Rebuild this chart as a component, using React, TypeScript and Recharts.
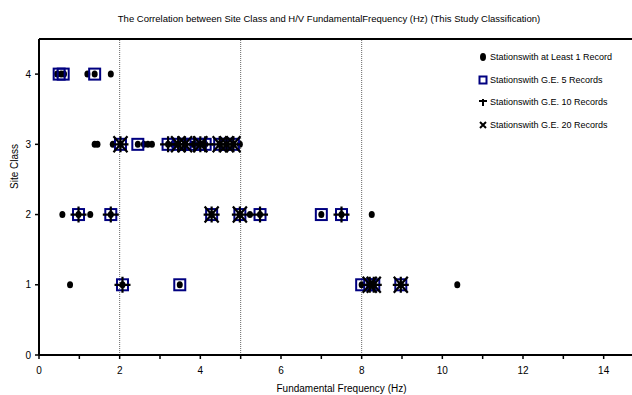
import { ScatterChart, Scatter, XAxis, YAxis, ReferenceLine, Legend } from 'recharts';

const FONT = '"Liberation Sans", Arial, sans-serif';

const title =
  'The Correlation between Site Class and H/V FundamentalFrequency (Hz) (This Study Classification)';

const siteClasses = [1, 2, 3, 4];
const xTicks = [0, 1, 2, 3, 4, 5, 6, 7, 8, 9, 10, 11, 12, 13, 14, 15];
const yTicks = [0, 1, 2, 3, 4];
const boundaryFreqs = [2, 5, 8];

// fundamental frequency (Hz) per station, one list per site class (1..4)
const freqAtLeast1 = [
  [0.77, 2.07, 3.49, 8.0, 8.2, 8.3, 8.97, 10.37],
  [0.58, 0.98, 1.27, 1.78, 4.28, 4.98, 5.23, 5.48, 7.0, 7.5, 8.25],
  [1.38, 1.45, 1.83, 2.02, 2.45, 2.6, 2.7, 2.8, 3.2, 3.32, 3.45, 3.62, 3.8, 3.85, 4.0, 4.12, 4.48, 4.65, 4.82, 4.98],
  [0.45, 0.55, 0.62, 1.2, 1.38, 1.78],
];
const freqGE5 = [
  [2.07, 3.49, 8.0, 8.2, 8.3, 8.97],
  [0.98, 1.78, 4.28, 4.98, 5.48, 7.0, 7.5],
  [2.02, 2.45, 3.2, 3.45, 3.62, 3.8, 4.0, 4.12, 4.48, 4.65, 4.82],
  [0.5, 0.6, 1.38],
];
const freqGE10 = [
  [2.07, 8.2, 8.3, 8.97],
  [0.98, 1.78, 4.28, 4.98, 5.48, 7.5],
  [2.02, 3.2, 3.45, 3.62, 3.85, 4.0, 4.12, 4.48, 4.65, 4.82],
  [],
];
const freqGE20 = [
  [8.2, 8.3, 8.97],
  [4.28, 4.98],
  [2.02, 3.45, 3.62, 4.0, 4.48, 4.65, 4.82],
  [],
];

const seriesNames = [
  'Stationswith at Least 1 Record',
  'Stationswith G.E. 5 Records',
  'Stationswith G.E. 10 Records',
  'Stationswith G.E. 20 Records',
];

const toPoints = (lists: number[][]) =>
  siteClasses.flatMap((c, i) => lists[i].map((f) => ({ x: f, y: c })));

const Dot = (p: any) => <ellipse cx={p.cx} cy={p.cy} rx={3} ry={3.5} fill="#000" />;
const Box = (p: any) => (
  <rect x={p.cx - 5.5} y={p.cy - 5.5} width={11} height={11} fill="none" stroke="#000080" strokeWidth={2} />
);
const Plus = (p: any) => (
  <path d={`M${p.cx - 8},${p.cy}h16M${p.cx},${p.cy - 8}v16`} stroke="#000" strokeWidth={2.2} />
);
const Cross = (p: any) => (
  <path
    d={`M${p.cx - 7},${p.cy - 8}L${p.cx + 7},${p.cy + 8}M${p.cx + 7},${p.cy - 8}L${p.cx - 7},${p.cy + 8}`}
    stroke="#000"
    strokeWidth={2.2}
  />
);

const legendIcons = [
  <ellipse cx={5} cy={5} rx={3} ry={4} fill="#000" />,
  <rect x={1.5} y={1.5} width={7} height={7} fill="none" stroke="#000080" strokeWidth={2} />,
  <path d="M1,4h8M5,2v7" stroke="#000" strokeWidth={2} />,
  <path d="M2,2L8,8M8,2L2,8" stroke="#000" strokeWidth={2} />,
];

const renderLegend = () => (
  <div style={{ background: '#fff', padding: '0 0 2px 4px', fontFamily: FONT, fontSize: 9, color: '#000' }}>
    {seriesNames.map((n, i) => (
      <div key={n} style={{ display: 'flex', alignItems: 'center', height: 22.5 }}>
        <svg width={10} height={10} style={{ marginRight: 2 }}>
          {legendIcons[i]}
        </svg>
        <span>{n}</span>
      </div>
    ))}
  </div>
);

export default function App() {
  const tickStyle = { fontSize: 10, fill: '#000', fontFamily: FONT };
  return (
    <div style={{ position: 'absolute', left: 0, top: 0, width: 632, height: 395, overflow: 'hidden', background: '#fff' }}>
      <div
        style={{
          position: 'absolute',
          left: 0,
          top: 13,
          width: 658,
          textAlign: 'center',
          fontFamily: FONT,
          fontSize: 9.5,
          color: '#000',
        }}
      >
        {title}
      </div>
      <ScatterChart width={660} height={395} margin={{ top: 39, right: 16, bottom: 0, left: 0 }}>
        <XAxis
          type="number"
          dataKey="x"
          domain={[0, 15]}
          ticks={xTicks}
          interval={0}
          tickFormatter={(v) => (v % 2 === 0 ? String(v) : '')}
          tick={tickStyle}
          tickSize={4}
          tickMargin={8}
          axisLine={{ stroke: '#000', strokeWidth: 2 }}
          tickLine={{ stroke: '#000', strokeWidth: 1.5 }}
          height={40}
          label={{ value: 'Fundamental Frequency (Hz)', position: 'insideBottom', offset: 3, fontSize: 10, fill: '#000', fontFamily: FONT }}
        />
        <YAxis
          type="number"
          dataKey="y"
          domain={[0, 4.5]}
          ticks={yTicks}
          interval={0}
          tick={tickStyle}
          tickSize={4}
          tickMargin={4}
          axisLine={{ stroke: '#000', strokeWidth: 2 }}
          tickLine={{ stroke: '#000', strokeWidth: 1.5 }}
          width={39}
          label={{ value: 'Site Class', angle: -90, position: 'insideLeft', offset: 14, dy: -8, fontSize: 10, fill: '#000', fontFamily: FONT }}
        />
        <ReferenceLine y={4.5} stroke="#000" strokeWidth={2} />
        {boundaryFreqs.map((f) => (
          <ReferenceLine key={f} x={f} stroke="#666" strokeDasharray="1 1" />
        ))}
        <Legend layout="vertical" align="center" verticalAlign="middle" content={renderLegend} wrapperStyle={{ left: 474, top: 46, width: 160 }} />
        <Scatter name={seriesNames[0]} data={toPoints(freqAtLeast1)} shape={Dot} isAnimationActive={false} />
        <Scatter name={seriesNames[1]} data={toPoints(freqGE5)} shape={Box} isAnimationActive={false} />
        <Scatter name={seriesNames[2]} data={toPoints(freqGE10)} shape={Plus} isAnimationActive={false} />
        <Scatter name={seriesNames[3]} data={toPoints(freqGE20)} shape={Cross} isAnimationActive={false} />
      </ScatterChart>
    </div>
  );
}
